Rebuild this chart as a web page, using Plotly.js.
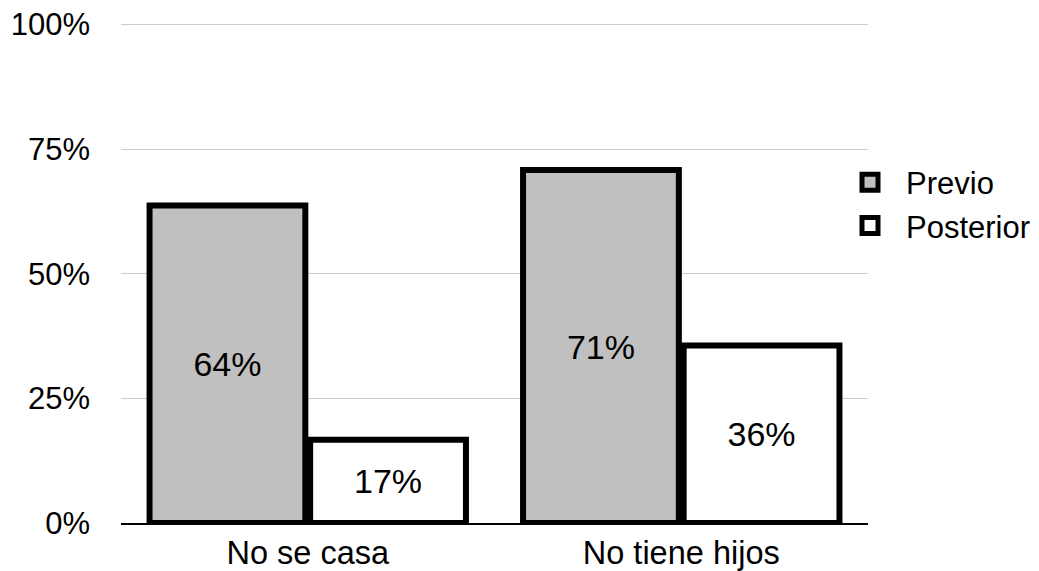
<!DOCTYPE html>
<html>
<head>
<meta charset="utf-8">
<script src="https://cdn.plot.ly/plotly-3.0.1.min.js"></script>
<style>html,body{margin:0;padding:0;background:#fff;}#chart{width:1039px;height:571px;}</style>
</head>
<body>
<div id="chart"></div>
<script>
const categories = ["No se casa", "No tiene hijos"];
const seriesNames = ["Previo", "Posterior"];
const seriesFill = ["#c0c0c0", "#ffffff"];
const previo = [0.637, 0.708];
const posterior = [0.167, 0.356];
const yTickVals = [0, 0.25, 0.5, 0.75, 1];
const yTickText = ["0%", "25%", "50%", "75%", "100%"];

const FONT = "Liberation Sans, Arial, sans-serif";

function barTrace(name, values, fill) {
  return {
    type: "bar", name: name, x: categories, y: values, showlegend: false,
    marker: {color: fill, line: {color: "#000", width: 6}},
    texttemplate: "%{y:.0%}", textposition: "inside", insidetextanchor: "middle",
    textfont: {family: FONT, size: 34, color: "#000"}, cliponaxis: false,
    hoverinfo: "skip"
  };
}
function legendTrace(name, fill) {
  return {
    type: "scatter", mode: "markers", name: name, x: [categories[0]], y: [null],
    marker: {symbol: "square", size: 16, color: fill, line: {color: "#000", width: 5}},
    hoverinfo: "skip", showlegend: true
  };
}

const traces = [
  barTrace(seriesNames[0], previo, seriesFill[0]),
  barTrace(seriesNames[1], posterior, seriesFill[1]),
  legendTrace(seriesNames[0], seriesFill[0]),
  legendTrace(seriesNames[1], seriesFill[1])
];

const layout = {
  width: 1039, height: 571,
  margin: {l: 121, r: 171, t: 23, b: 48, pad: 0, autoexpand: false},
  paper_bgcolor: "#fff", plot_bgcolor: "#fff",
  font: {family: FONT, size: 30, color: "#000"},
  barmode: "group", bargap: 0.14, bargroupgap: 0.03,
  showlegend: true,
  legend: {x: 0.9545, xanchor: "left", y: 0.638, yanchor: "middle",
           font: {family: FONT, size: 31, color: "#000"}, bgcolor: "rgba(0,0,0,0)",
           itemwidth: 62, tracegroupgap: 0},
  xaxis: {type: "category", showline: true, linecolor: "#000", linewidth: 2,
          showgrid: false, ticks: "", automargin: false,
          tickfont: {family: FONT, size: 32.5, color: "#000"}},
  yaxis: {range: [0, 1.003], tickvals: yTickVals, ticktext: yTickText, showgrid: true,
          gridcolor: "#cccccc", gridwidth: 1, zeroline: false, showline: false,
          ticks: "", ticklabelstandoff: 30, automargin: false,
          tickfont: {family: FONT, size: 31, color: "#000"}}
};

Plotly.newPlot("chart", traces, layout, {displayModeBar: false, staticPlot: true});
</script>
</body>
</html>
